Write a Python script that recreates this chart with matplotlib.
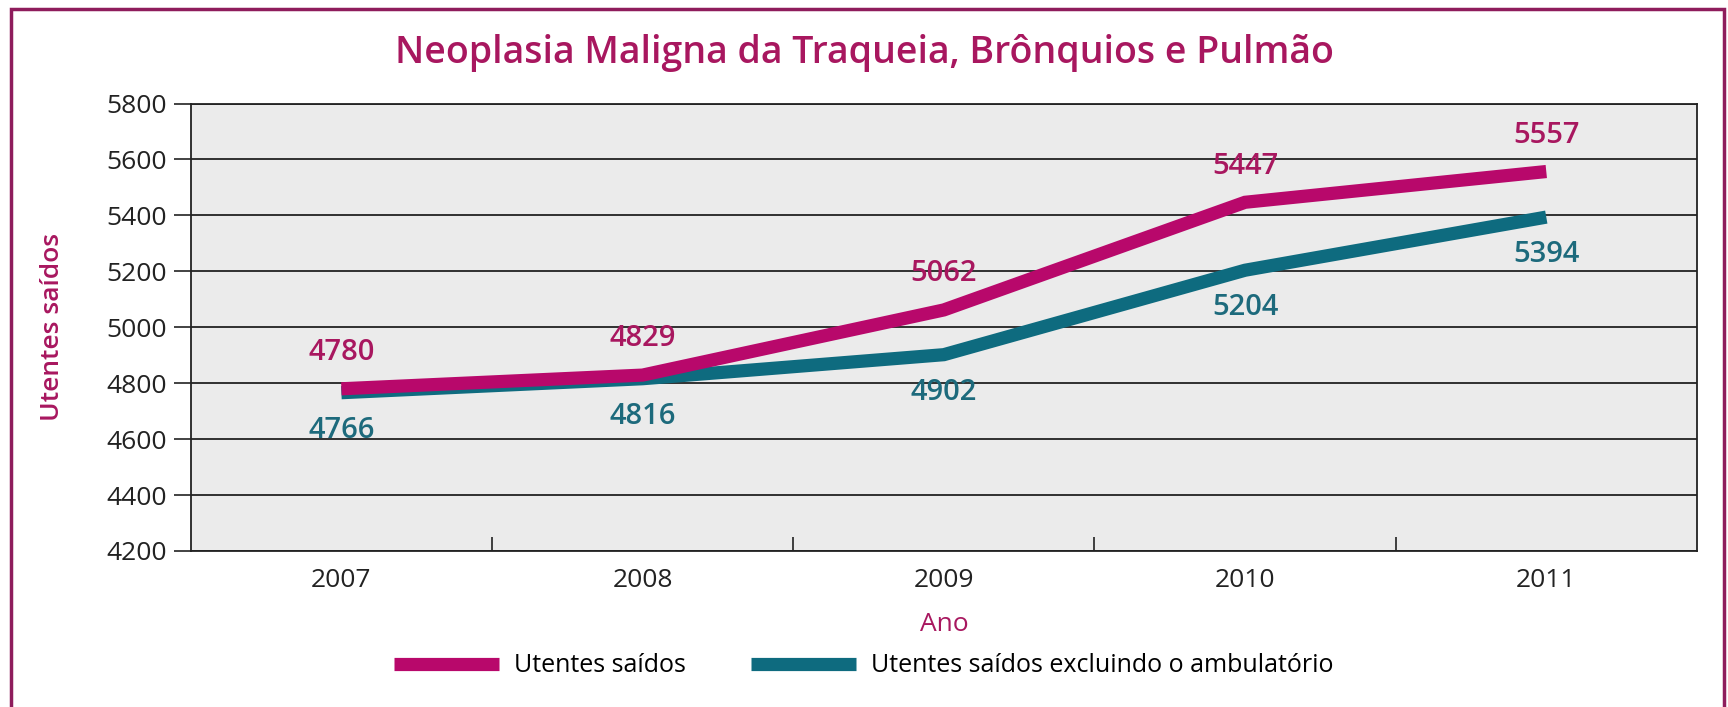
import matplotlib.pyplot as plt
import matplotlib.patches as patches
import numpy as np

plt.rcParams['font.family'] = ['Open Sans', 'DejaVu Sans']

anos = ['2007', '2008', '2009', '2010', '2011']
utentes = [4780, 4829, 5062, 5447, 5557]
utentes_excl = [4766, 4816, 4902, 5204, 5394]

magenta = '#b8086b'
magenta_txt = '#a8175f'
teal = '#0e6b7f'
teal_txt = '#1d6a7c'

fig = plt.figure(figsize=(17.28, 7.07), dpi=100)
ax = fig.add_axes([0.1104, 0.2207, 0.8716, 0.6328])
ax.set_facecolor('#ebebeb')

x = np.arange(len(anos))
l2, = ax.plot(x, utentes_excl, color=teal, lw=9.5, solid_capstyle='butt',
              solid_joinstyle='miter', zorder=3)
l1, = ax.plot(x, utentes, color=magenta, lw=9.5, solid_capstyle='butt',
              solid_joinstyle='miter', zorder=4)

# rótulos dos valores
for xi, v in zip(x, utentes):
    ax.annotate(str(v), (xi, v), xytext=(0, 26), textcoords='offset points',
                ha='center', va='center', fontsize=21, fontweight='semibold',
                color=magenta_txt, zorder=5)
for xi, v in zip(x, utentes_excl):
    ax.annotate(str(v), (xi, v), xytext=(0, -27), textcoords='offset points',
                ha='center', va='center', fontsize=21, fontweight='semibold',
                color=teal_txt, zorder=5)

ax.set_xlim(-0.5, 4.5)
ax.set_ylim(4200, 5800)
ax.set_yticks(np.arange(4200, 5801, 200))
ax.set_xticks(x)
ax.set_xticklabels(anos)
ax.set_xticks(x[:-1] + 0.5, minor=True)
ax.yaxis.grid(True, color='#222222', lw=1.3)
ax.set_axisbelow(True)

ax.tick_params(axis='y', direction='out', length=12, width=1.2, labelsize=19,
               colors='#222222', pad=5)
ax.tick_params(axis='x', which='major', length=0, labelsize=19, colors='#222222', pad=12)
ax.tick_params(axis='x', which='minor', direction='in', length=10, width=1.2, colors='#222222')

for s in ['left', 'right', 'top', 'bottom']:
    ax.spines[s].set_color('#222222')
    ax.spines[s].set_linewidth(1.3)

ax.set_ylabel('Utentes saídos', fontsize=19, color=magenta_txt, fontweight='semibold', labelpad=30)
ax.set_xlabel('Ano', fontsize=19, color=magenta_txt, labelpad=14)

fig.text(0.5, 0.925, 'Neoplasia Maligna da Traqueia, Brônquios e Pulmão', ha='center', va='center',
         fontsize=27, fontweight='semibold', color=magenta_txt)

fig.legend([l1, l2], ['Utentes saídos', 'Utentes saídos excluindo o ambulatório'],
           loc='center', bbox_to_anchor=(0.5, 0.058), ncol=2, frameon=False, fontsize=18,
           handlelength=4.2, columnspacing=2.6, handletextpad=0.6)

# moldura exterior
fig.patches.append(patches.Rectangle((0.0065, -0.01), 0.991, 0.997, transform=fig.transFigure,
                                     fill=False, edgecolor='#8e1c5c', lw=2.5))

fig.savefig('out.png', dpi=100)
